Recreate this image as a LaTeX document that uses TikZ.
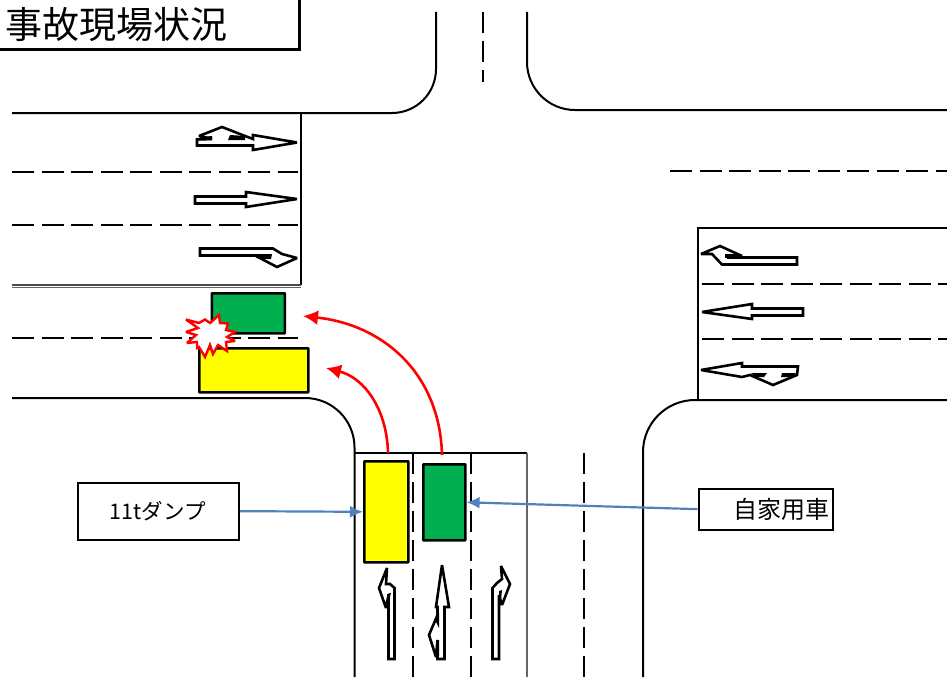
\documentclass[tikz,border=0pt]{standalone}
\usepackage{fontspec}
\newfontfamily\jpfont{Noto Sans CJK JP}
\usetikzlibrary{arrows.meta}
\definecolor{cargreen}{RGB}{0,176,80}
\definecolor{caryellow}{RGB}{255,255,0}
\definecolor{bluearrow}{RGB}{79,129,189}
\tikzset{
  road/.style={line width=2pt,draw=black},
  lane/.style={line width=2pt,draw=black,dash pattern=on 22pt off 7.5pt},
  lanev/.style={line width=2.4pt,draw=black,dash pattern=on 21pt off 8pt},
  marking/.style={line width=2.6pt,draw=black,fill=white,line join=miter,miter limit=2},
  dark/.style={fill=black,draw=none},
  car/.style={draw=black,line width=2.6pt,inner sep=0pt,anchor=north west,rounded corners=0.5pt},
  label/.style={draw=black,line width=2.3pt,fill=white,inner sep=0pt,font=\jpfont\fontsize{24}{26}\selectfont},
  redarrow/.style={draw=red,line width=2.6pt,-{Latex[length=15pt,width=15pt]}},
  bluearr/.style={draw=bluearrow,line width=2.2pt,-{Latex[length=13pt,width=12pt]}},
}
\begin{document}
\begin{tikzpicture}[x=1pt,y=-1pt]
\useasboundingbox (0,0) rectangle (947,677);
% title
\node[draw=black,line width=3.4pt,fill=white,minimum width=306pt,minimum height=56pt,anchor=south east,inner sep=0pt] (titlebox) at (301,51) {};
\node[anchor=west,inner sep=0pt,font=\jpfont\fontsize{37}{39}\selectfont] (title) at (5,25) {事故現場状況};
% road edges
\draw[road] (12,113) -- (392,113) arc[start angle=90,end angle=0,radius=44] -- (436,12);
\draw[road] (527,12) -- (527,62) arc[start angle=180,end angle=90,radius=48] -- (947,110);
\draw[road] (12,398) -- (305,398) arc[start angle=-90,end angle=0,radius=49.5] -- (354.5,677);
\draw[road] (947,400) -- (695,400) arc[start angle=-90,end angle=-180,radius=52] -- (643,677);
\draw[road] (301,113) -- (301,285);
\draw[line width=1.2pt,black!70] (12,285) -- (301,285);
\draw[line width=0.8pt,black!60] (12,287) -- (301,287);
\draw[road] (698,400) -- (698,228) -- (947,228);
\draw[road] (355,453) -- (527,453);
\draw[line width=1.2pt,black!60] (527,453) -- (527,677);
% lane dashes
\draw[lane] (12,172) -- (298,172);
\draw[lane] (12,225) -- (298,225);
\draw[lane] (12,338) -- (298,338);
\draw[lane] (670,171) -- (947,171);
\draw[lane] (702,284) -- (947,284);
\draw[lane] (702,339) -- (947,339);
\draw[lanev] (483,12) -- (483,82);
\draw[lanev] (413,453) -- (413,677);
\draw[lanev] (471,453) -- (471,677);
\draw[lanev] (584,453) -- (584,677);
% left approach markings
\draw[marking] (197,145.5) -- (253,145.5) -- (253,150) -- (297,142.5) -- (253,135) -- (253,139) -- (245,136) -- (222,127) -- (199,136) -- (212,139) -- (197,139.5) -- cycle;
\fill[dark] (201,137) -- (212,136) -- (212,140) -- (199,140) -- cycle;
\fill[dark] (230,135) -- (245,136) -- (245,140) -- (228,140) -- cycle;
\draw[marking] (195,196.5) -- (246,196.5) -- (246,192) -- (297,199) -- (246,207) -- (246,203.5) -- (195,203.5) -- cycle;
\draw[marking] (200,248.5) -- (273,248.5) -- (282,254) -- (297,258) -- (277,267) -- (255,255.5) -- (200,255.5) -- cycle;
\fill[dark] (254,254) -- (272,254) -- (271,259) -- (261,259) -- cycle;
% right approach markings
\draw[marking] (797,257.5) -- (727,257.5) -- (742,256) -- (720,246) -- (701,254) -- (712,254) -- (722,264.5) -- (797,264.5) -- cycle;
\fill[dark] (725,254) -- (738,254) -- (742,257) -- (725,258) -- cycle;
\draw[marking] (803,308.5) -- (752,308.5) -- (752,304) -- (702,312) -- (752,319) -- (752,315.5) -- (803,315.5) -- cycle;
\draw[marking] (798,366.5) -- (742,366.5) -- (742,363) -- (701,370) -- (742,377) -- (750,375) -- (773,385) -- (797,375) -- cycle;
\fill[dark] (751,373) -- (767,373) -- (764,377) -- (755,377) -- cycle;
\fill[dark] (782,373) -- (796,373) -- (793,377) -- (781,377) -- cycle;
% bottom approach markings
\draw[marking] (388.5,659) -- (394.5,659) -- (394.5,588) -- (390,584) -- (386,584) -- (387,568) -- (379,588) -- (386,608) -- (388.5,595) -- cycle;
\fill[dark] (387,594) -- (391,593) -- (389,600) -- (387,605) -- cycle;
\draw[marking] (437.5,659) -- (444.5,659) -- (444.5,607) -- (449,607) -- (442,565) -- (436,607) -- (437.5,607) -- (437.5,615) -- (429,635) -- (436,657) -- (437.5,640) -- cycle;
\fill[dark] (436,615) -- (439,613) -- (439,628) -- (436,622) -- cycle;
\fill[dark] (436,642) -- (439,640) -- (439,656) -- (436,652) -- cycle;
\draw[marking] (492.5,659) -- (499,659) -- (499,595) -- (502,605) -- (510,584) -- (501,566) -- (502,579) -- (497,583) -- (492.5,588) -- cycle;
\fill[dark] (499,591) -- (502,590) -- (501,600) -- (499,604) -- cycle;
% vehicles
\node[car,fill=cargreen,minimum width=73pt,minimum height=40pt] (greenA) at (210.5,292) {};
\node[car,fill=caryellow,minimum width=109pt,minimum height=44pt] (yellowA) at (198,347) {};
\node[car,fill=caryellow,minimum width=44pt,minimum height=101pt] (yellowB) at (363,460) {};
\node[car,fill=cargreen,minimum width=42pt,minimum height=76pt] (greenB) at (422,463) {};
% collision burst
\draw[draw=red,fill=white,line width=2.4pt,line join=miter,miter limit=3] (186,319.5) -- (199,323) -- (205,319.5) -- (210,323) -- (219,315) -- (220,323) -- (228,323.5) -- (226,330) -- (235,332) -- (227,337) -- (235,341) -- (226,342) -- (227,351) -- (218,345) -- (213,354) -- (210,345) -- (205,357) -- (199,347) -- (197,348) -- (197,342) -- (187,343) -- (196,335) -- (186,332) -- (198,328) -- cycle;
% labels
\node[label,minimum width=161pt,minimum height=57pt,anchor=north west] (dump) at (76.5,481.5) {\hspace*{-1pt}\fontsize{21.5}{23}\selectfont 11tダンプ};
\node[label,minimum width=134pt,minimum height=41pt,anchor=north west] (own) at (697.5,487.5) {\hspace*{31pt}自家用車};
% turning paths
\coordinate (startA) at (388,453);
\coordinate (endA) at (326,368);
\coordinate (startB) at (442,455);
\coordinate (endB) at (303,316);
\draw[redarrow] (startA) .. controls (387,410) and (365,378) .. (endA);
\draw[redarrow] (startB) .. controls (440,375) and (385,325) .. (endB);
% callouts
\draw[bluearr] (dump.east) -- (yellowB.west);
\draw[bluearr] (own.west) -- (greenB.east);
\end{tikzpicture}
\end{document}
